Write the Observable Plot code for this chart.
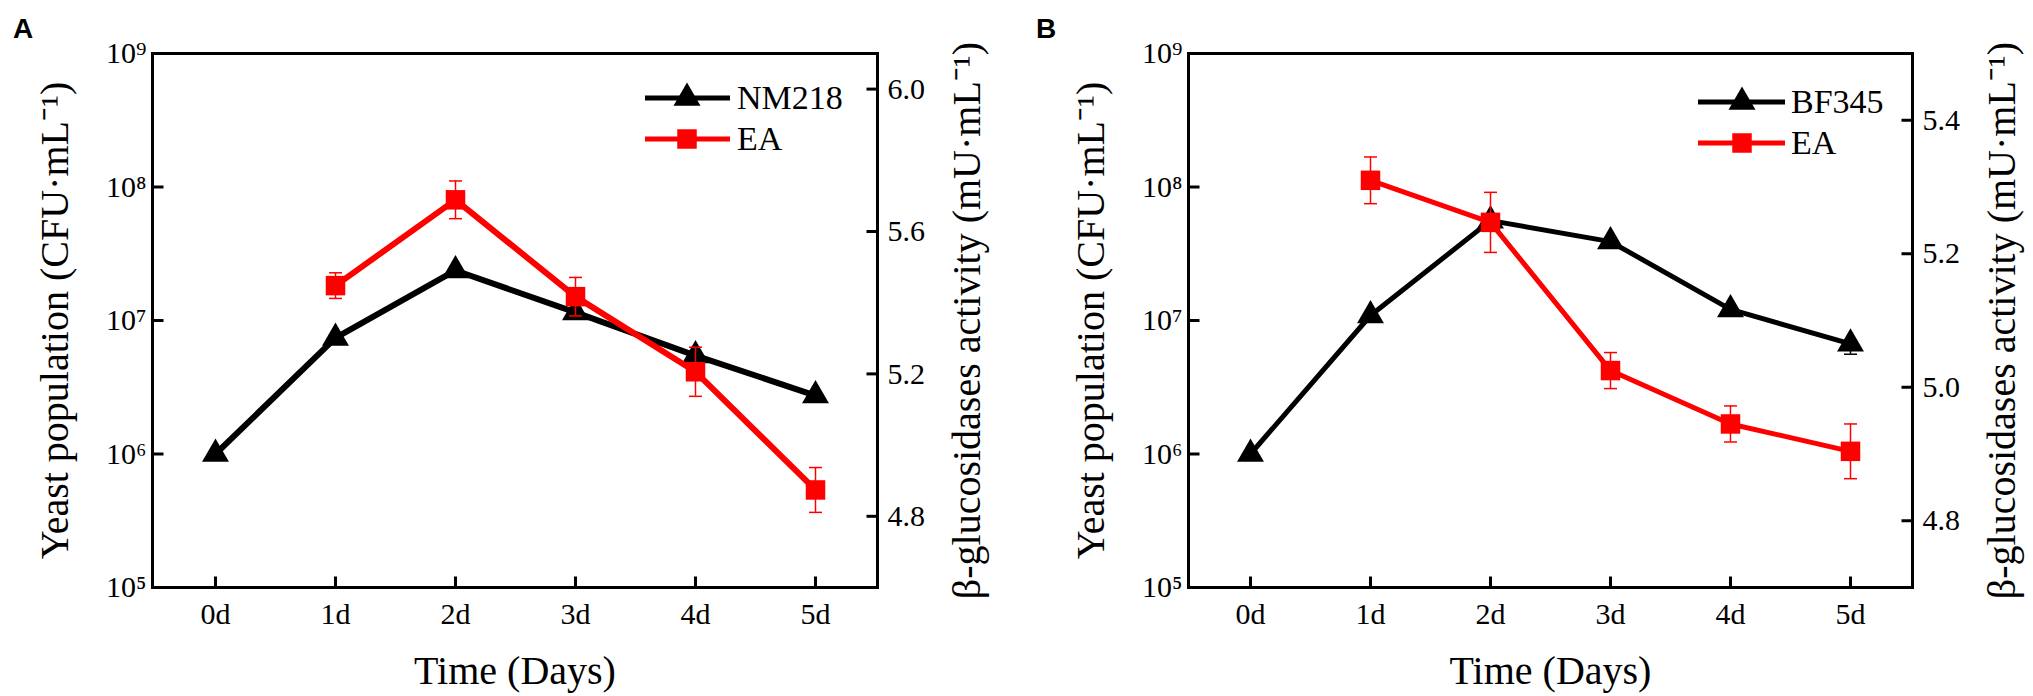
<!DOCTYPE html>
<html><head><meta charset="utf-8">
<script src="https://cdn.jsdelivr.net/npm/d3@7"></script>
<script src="https://cdn.jsdelivr.net/npm/@observablehq/plot@0.6"></script>
<style>
body{margin:0;background:#fff;}
#wrap{position:relative;width:2033px;height:696px;overflow:hidden;}
.layer{position:absolute;top:0;}
</style></head><body><div id="wrap"></div>
<script>
// ---- data ----
const days = ["0d","1d","2d","3d","4d","5d"];
const yeastTicks = [1e5, 1e6, 1e7, 1e8, 1e9];

// Panel A
const nm218 = [1e6, 7.4e6, 2.37e7, 1.15e7, 5.46e6, 2.74e6];
const nm218Err = [0, 0, 0, 0, 0, 0];
const eaA = [null, 5.448, 5.689, 5.417, 5.206, 4.874];
const eaAErr = [null, 0.036, 0.053, 0.054, 0.069, 0.063];
const actATicks = [4.8, 5.2, 5.6, 6.0];
const actADomain = [4.6, 6.1];

// Panel B
const bf345 = [1e6, 1.09e7, 5.6e7, 3.9e7, 1.21e7, 6.69e6];
const bf345Err = [0, 0, 0, 0, 0, 1.1e6];
const eaB = [null, 5.310, 5.247, 5.025, 4.945, 4.904];
const eaBErr = [null, 0.035, 0.045, 0.027, 0.027, 0.041];
const actBTicks = [4.8, 5.0, 5.2, 5.4];
const actBDomain = [4.7, 5.5];

const yeastTitle = "Yeast population (CFU·mL⁻¹)";
const actTitle = "β-glucosidases activity (mU·mL⁻¹)";
const xTitle = "Time (Days)";

// ---- helpers ----
const SUP = {"0":"⁰","1":"¹","2":"²","3":"³","4":"⁴","5":"⁵","6":"⁶","7":"⁷","8":"⁸","9":"⁹"};
const pow10 = d => "10" + String(Math.round(Math.log10(d))).split("").map(c => SUP[c]).join("");
const FONT = '"Liberation Serif","Times New Roman",serif';
const RED = "#ff0000";

const tickRight = {draw(c){ c.moveTo(0,0); c.lineTo(11,0); }};
const tickLeft  = {draw(c){ c.moveTo(0,0); c.lineTo(-11,0); }};
const tickUp    = {draw(c){ c.moveTo(0,0); c.lineTo(0,-11); }};
const cap       = {draw(c){ c.moveTo(-6.5,0); c.lineTo(6.5,0); }};

const wrap = document.getElementById("wrap");

function panel(cfg) {
  const black = days.map((d,i) => ({day: d, v: cfg.black[i], e: cfg.blackErr[i]}));
  const red = days.map((d,i) => ({day: d, v: cfg.red[i], e: cfg.redErr[i]})).filter(d => d.v != null);
  const blackE = black.filter(d => d.e > 0);
  const common = {
    width: cfg.width, height: 696,
    marginLeft: cfg.ml, marginRight: cfg.mr, marginTop: 53, marginBottom: 109,
    style: {fontFamily: FONT, fontSize: "30px", color: "#000", background: "transparent", overflow: "visible"},
    x: {type: "point", domain: days, padding: 0.5}
  };
  const base = Plot.plot({
    ...common,
    y: {type: "log", domain: [1e5, 1e9]},
    marks: [
      Plot.axisX({anchor: "bottom", tickSize: 0, tickPadding: 15, label: null, fontSize: 30}),
      Plot.axisY({anchor: "left", ticks: yeastTicks, tickFormat: pow10, tickSize: 0, tickPadding: 6, label: null, fontSize: 30}),
      Plot.dot(days, {x: d => d, frameAnchor: "bottom", symbol: tickUp, stroke: "#000", strokeWidth: 3, fill: "none"}),
      Plot.dot(yeastTicks, {y: d => d, frameAnchor: "left", symbol: tickRight, stroke: "#000", strokeWidth: 3, fill: "none"}),
      Plot.frame({stroke: "#000", strokeWidth: 3}),
      Plot.text([yeastTitle], {text: d => d, frameAnchor: "left", dx: -97, rotate: -90, fontSize: 40, textAnchor: "middle", lineAnchor: "middle"}),
      Plot.text([xTitle], {text: d => d, frameAnchor: "bottom", dy: 84, fontSize: 40, textAnchor: "middle", lineAnchor: "middle"}),
      Plot.line(black, {x: "day", y: "v", stroke: "#000", strokeWidth: cfg.lw}),
      Plot.ruleX(blackE, {x: "day", y1: d => d.v - d.e, y2: d => d.v + d.e, stroke: "#000", strokeWidth: 1.5}),
      Plot.dot(blackE, {x: "day", y: d => d.v - d.e, symbol: cap, stroke: "#000", strokeWidth: 1.5}),
      Plot.dot(black, {x: "day", y: "v", symbol: "triangle", r: 10, fill: "#000", stroke: "none"})
    ]
  });
  const over = Plot.plot({
    ...common,
    x: {...common.x, axis: null},
    y: {type: "linear", domain: cfg.actDomain},
    marks: [
      Plot.axisY({anchor: "right", ticks: cfg.actTicks, tickFormat: d3.format(".1f"), tickSize: 0, tickPadding: 10, label: null, fontSize: 30}),
      Plot.dot(cfg.actTicks, {y: d => d, frameAnchor: "right", symbol: tickLeft, stroke: "#000", strokeWidth: 3, fill: "none"}),
      Plot.text([actTitle], {text: d => d, frameAnchor: "right", dx: 90, rotate: -90, fontSize: 40, textAnchor: "middle", lineAnchor: "middle"}),
      Plot.line(red, {x: "day", y: "v", stroke: RED, strokeWidth: cfg.lw}),
      Plot.ruleX(red, {x: "day", y1: d => d.v - d.e, y2: d => d.v + d.e, stroke: RED, strokeWidth: 1.5}),
      Plot.dot(red, {x: "day", y: d => d.v + d.e, symbol: cap, stroke: RED, strokeWidth: 1.5}),
      Plot.dot(red, {x: "day", y: d => d.v - d.e, symbol: cap, stroke: RED, strokeWidth: 1.5}),
      Plot.dot(red, {x: "day", y: "v", symbol: "square", r: 11, fill: RED, stroke: "none"})
    ]
  });
  for (const el of [base, over]) {
    el.classList.add("layer");
    el.style.left = cfg.left + "px";
    wrap.appendChild(el);
  }
}

panel({left: 0, width: 1016, ml: 152, mr: 139, lw: 6,
  black: nm218, blackErr: nm218Err, red: eaA, redErr: eaAErr, actDomain: actADomain, actTicks: actATicks});
panel({left: 1016, width: 1017, ml: 172, mr: 121, lw: 5,
  black: bf345, blackErr: bf345Err, red: eaB, redErr: eaBErr, actDomain: actBDomain, actTicks: actBTicks});

// ---- legends and panel letters ----
const svg = d3.select(wrap).append("svg").attr("class", "layer")
  .attr("width", 2033).attr("height", 696).style("left", "0px").style("pointer-events", "none");
const legends = [
  {x0: 645, x1: 730, xm: 687, xt: 737, y: 98, items: ["NM218", "EA"]},
  {x0: 1698, x1: 1785, xm: 1742, xt: 1791, y: 102, items: ["BF345", "EA"]}
];
const tri = d3.symbol(d3.symbolTriangle, 315)();
const sq = d3.symbol(d3.symbolSquare, 380)();
for (const L of legends) {
  L.items.forEach((name, i) => {
    const y = L.y + i * 41;
    const col = i === 0 ? "#000" : RED;
    svg.append("line").attr("x1", L.x0).attr("x2", L.x1).attr("y1", y).attr("y2", y)
      .attr("stroke", col).attr("stroke-width", 5);
    svg.append("path").attr("d", i === 0 ? tri : sq).attr("transform", `translate(${L.xm},${y})`).attr("fill", col);
    svg.append("text").attr("x", L.xt).attr("y", y + 11).text(name)
      .style("font-family", FONT).style("font-size", "34px").attr("fill", "#000");
  });
}
const letterFont = '"Liberation Sans",Arial,sans-serif';
svg.append("text").attr("x", 13).attr("y", 38).text("A")
  .style("font-family", letterFont).style("font-weight", "bold").style("font-size", "28px");
svg.append("text").attr("x", 1036).attr("y", 38).text("B")
  .style("font-family", letterFont).style("font-weight", "bold").style("font-size", "28px");
</script>
</body></html>
